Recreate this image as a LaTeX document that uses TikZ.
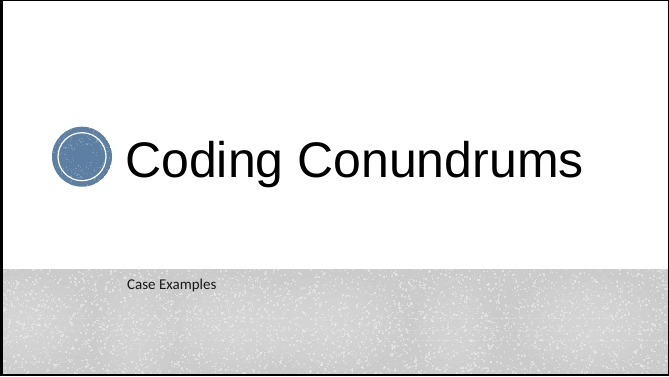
\documentclass[tikz,border=0pt]{standalone}
\usepackage{fontspec}
\setmainfont{Liberation Sans}
\newfontfamily\subfont{Carlito}
\usetikzlibrary{calc}
\definecolor{disc}{RGB}{92,127,162}
\definecolor{band}{RGB}{203,203,203}
\definecolor{bandlight}{RGB}{236,236,236}
\tikzset{
  speck/.style={fill=bandlight,opacity=0.6},
  glow/.style={fill=white,opacity=0.045},
}
\begin{document}
\begin{tikzpicture}[x=1pt,y=1pt]
\useasboundingbox (0,0) rectangle (669,376);
\fill[white] (0,0) rectangle (669,376);

% textured footer band
\begin{scope}
\clip (0,0) rectangle (669,107);
\fill[band] (0,0) rectangle (669,107);
% soft light patches of the texture
\foreach \cx in {20,235,330,590} {
  \foreach \s in {1.0,0.85,0.7,0.55,0.4,0.3} {
    \fill[glow] (\cx,52) ellipse ({75*\s} and {48*\s});
  }
}
\foreach \cx in {135,455} {
  \foreach \s in {1.0,0.8,0.6,0.4} {
    \fill[glow] (\cx,45) ellipse ({40*\s} and {55*\s});
  }
}
% faint horizontal streaks
\foreach \yy/\xa/\xb in {46/0/669,58/40/300,36/60/320,58/380/640,36/400/660} {
  \draw[white,opacity=0.22,line width=1,dash pattern=on 5pt off 3pt on 2pt off 4pt] (\xa,\yy) -- (\xb,\yy);
}
% speckle noise
\pgfmathsetseed{11}
\foreach \i in {1,...,4200} {
  \pgfmathsetmacro\px{rnd*669}
  \pgfmathsetmacro\py{rnd*107}
  \pgfmathsetmacro\sz{0.8+rnd*1.2}
  \fill[speck] (\px,\py) rectangle ++(\sz,\sz);
}
\end{scope}

% title disc
\coordinate (dc) at (82,219.3);
\begin{scope}
\clip (dc) circle (30);
\fill[disc] (dc) circle (30);
\pgfmathsetseed{5}
\foreach \i in {1,...,160} {
  \pgfmathsetmacro\ang{rnd*360}
  \pgfmathsetmacro\rr{10+rnd*20}
  \fill[white,opacity=0.18] ($(dc)+(\ang:\rr)$) rectangle ++(1.2,1.2);
}
\end{scope}
\draw[white,line width=1.2pt] (dc) circle (24);

% texts
\node[anchor=base west,inner sep=0,font=\fontsize{50}{50}\selectfont] (title) at (125,199) {Coding Conundrums};
\node[anchor=base west,inner sep=0,font=\subfont\fontsize{15}{15}\selectfont,text=black!90] (sub) at (127,87) {Case Examples};

% slide frame
\fill[black] (0,0) rectangle (3,376);
\fill[black] (0,374.5) rectangle (669,376);
\fill[black] (0,0) rectangle (669,2.5);
\fill[black] (668,0) rectangle (669,376);
\end{tikzpicture}
\end{document}
